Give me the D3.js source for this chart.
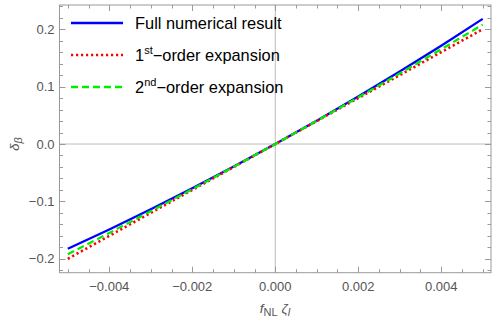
<!DOCTYPE html>
<html><head><meta charset="utf-8">
<script src="https://cdn.jsdelivr.net/npm/d3@7"></script>
<style>
body{margin:0;background:#fff;}
text{font-family:"Liberation Sans",Arial,sans-serif;}
</style></head>
<body><svg id="c" width="498" height="323"></svg>
<script>
const xValues = [-0.005,-0.004,-0.003,-0.002,-0.001,0,0.001,0.002,0.003,0.004,0.005];
const fullResult = [-0.1825,-0.1488,-0.1137,-0.0772,-0.0393,0,0.0407,0.0828,0.1263,0.1712,0.2180];
const firstOrder = [-0.200,-0.160,-0.120,-0.080,-0.040,0,0.040,0.080,0.120,0.160,0.200];
const secondOrder = [-0.1920,-0.1549,-0.1171,-0.0787,-0.0397,0,0.0403,0.0813,0.1229,0.1651,0.2080];
const xTicks = [-0.004,-0.002,0,0.002,0.004];
const yTicks = [-0.2,-0.1,0,0.1,0.2];
const seriesNames = ["Full numerical result","1st-order expansion","2nd-order expansion"];

const svg = d3.select("#c");
const L=59.5, R=491, T=5, B=272.7;
const x = d3.scaleLinear().domain([-0.0052,0.0052]).range([L,R]);
const y = d3.scaleLinear().domain([-0.2242,0.2422]).range([B,T]);
const frameCol="#9a9a9a", tickTextCol="#555";

svg.append("line").attr("x1",x(0)).attr("x2",x(0)).attr("y1",T).attr("y2",B).attr("stroke","#bbb").attr("stroke-width",1);
svg.append("line").attr("x1",L).attr("x2",R).attr("y1",y(0)).attr("y2",y(0)).attr("stroke","#bbb").attr("stroke-width",1);

const series = [
  {vals: fullResult, color:"#0000ff", dash:null, w:2.3},
  {vals: firstOrder, color:"#ff0000", dash:"2.2,2.8", w:2.6},
  {vals: secondOrder, color:"#00ee00", dash:"7,4", w:2.3}
];
const line = d3.line().x((d,i)=>x(xValues[i])).y(d=>y(d));
series.forEach(s=>{
  svg.append("path").attr("d",line(s.vals)).attr("fill","none")
    .attr("stroke",s.color).attr("stroke-width",s.w)
    .attr("stroke-dasharray",s.dash);
});

const g = svg.append("g");
g.append("rect").attr("x",L).attr("y",T).attr("width",R-L).attr("height",B-T)
  .attr("fill","none").attr("stroke",frameCol).attr("stroke-width",1);

const xMinor = d3.range(-0.005,0.00501,0.0005);
xMinor.forEach(v=>{
  const major = xTicks.some(t=>Math.abs(t-v)<1e-9);
  const len = major?6:3.5;
  const px = Math.round(x(v))+0.5;
  g.append("line").attr("x1",px).attr("x2",px).attr("y1",B).attr("y2",B-len).attr("stroke",frameCol);
  g.append("line").attr("x1",px).attr("x2",px).attr("y1",T).attr("y2",T+len).attr("stroke",frameCol);
});
const yMinor = d3.range(-0.22,0.2401,0.02);
yMinor.forEach(v=>{
  const major = yTicks.some(t=>Math.abs(t-v)<1e-9);
  const len = major?6:3.5;
  const py = Math.round(y(v))+0.5;
  g.append("line").attr("y1",py).attr("y2",py).attr("x1",L).attr("x2",L+len).attr("stroke",frameCol);
  g.append("line").attr("y1",py).attr("y2",py).attr("x1",R).attr("x2",R-len).attr("stroke",frameCol);
});
const fmtX = v => (v<0?"\u2212":"") + Math.abs(v).toFixed(3);
const fmtY = v => (v<0?"\u2212":"") + Math.abs(v).toFixed(1);
xTicks.forEach(v=>{
  g.append("text").attr("x",x(v)).attr("y",B+18).attr("text-anchor","middle")
   .attr("font-size",13).attr("fill",tickTextCol).text(fmtX(v));
});
yTicks.forEach(v=>{
  g.append("text").attr("x",L-5).attr("y",y(v)+4.5).attr("text-anchor","end")
   .attr("font-size",13).attr("fill",tickTextCol).text(fmtY(v));
});

const xl = svg.append("text").attr("x",275).attr("y",313).attr("text-anchor","middle")
  .attr("font-size",13.5).attr("fill","#555");
xl.append("tspan").attr("font-style","italic").text("f");
xl.append("tspan").attr("font-size",11).attr("dy",3).text("NL");
xl.append("tspan").attr("dy",-3).attr("font-style","italic").text(" \u03b6");
xl.append("tspan").attr("font-size",11).attr("dy",3).attr("font-style","italic").text("l");

const yl = svg.append("text").attr("transform","translate(19,144) rotate(-90)").attr("text-anchor","middle")
  .attr("font-size",13.5).attr("fill","#555");
yl.append("tspan").attr("font-style","italic").text("\u03b4");
yl.append("tspan").attr("font-size",11).attr("dy",3).attr("font-style","italic").text("\u03b2");

const legY=[23,55,87];
series.forEach((s,i)=>{
  svg.append("line").attr("x1",71).attr("x2",123).attr("y1",legY[i]).attr("y2",legY[i])
   .attr("stroke",s.color).attr("stroke-width",s.w).attr("stroke-dasharray",s.dash);
});
svg.append("text").attr("x",135).attr("y",legY[0]+5.5).attr("font-size",16.4).attr("fill","#000").text(seriesNames[0]);
[1,2].forEach(i=>{
  const t = svg.append("text").attr("x",135).attr("y",legY[i]+5.5).attr("font-size",16.4).attr("fill","#000");
  const nm = seriesNames[i];
  t.append("tspan").text(nm[0]);
  t.append("tspan").attr("font-size",11).attr("dy",-7).text(i===1?"st":"nd");
  t.append("tspan").attr("dy",7).text("\u2212"+nm.slice(4));
});
</script></body></html>
